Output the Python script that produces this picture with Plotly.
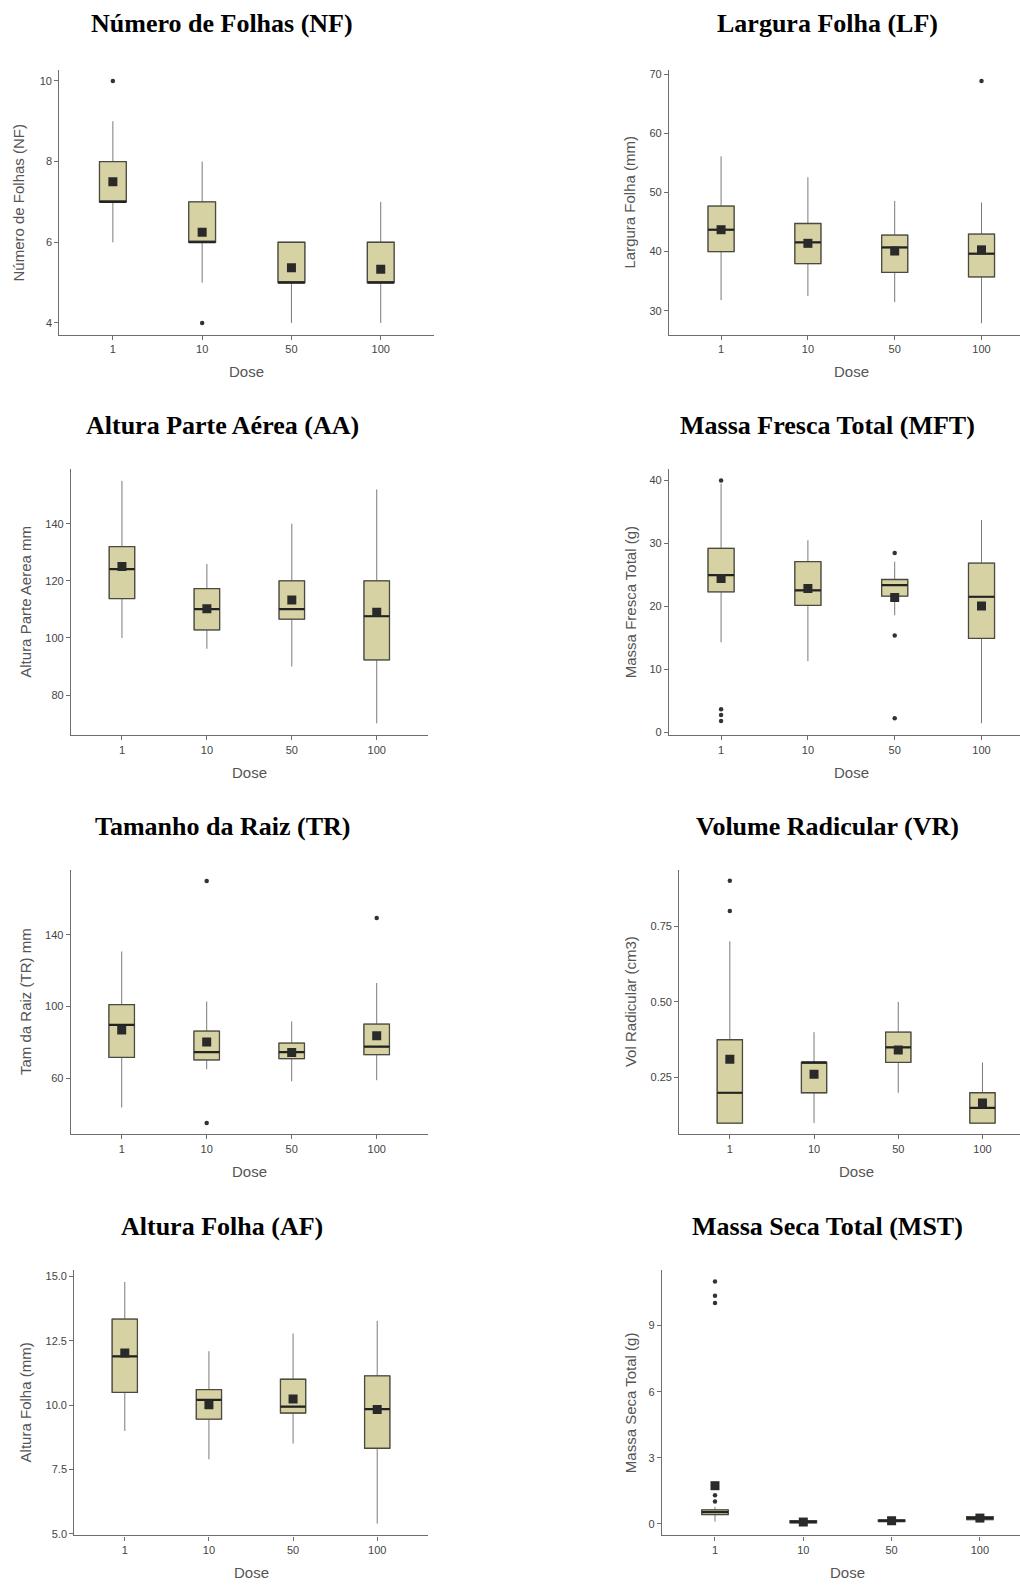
import plotly.graph_objects as go

W, H = 1020, 1586
DOSES = ["1", "10", "50", "100"]

# ---------------- data ----------------
# Número de Folhas (NF)
NF_Q1 = [7, 6, 5, 5]
NF_MED = [7, 6, 5, 5]
NF_Q3 = [8, 7, 6, 6]
NF_LO = [6, 5, 4, 4]
NF_HI = [9, 8, 6, 7]
NF_MEAN = [7.5, 6.25, 5.37, 5.33]
NF_OUT_DOSE = ["1", "10"]
NF_OUT_VAL = [10, 4]

# Largura Folha (LF)
LF_Q1 = [40.0, 37.97, 36.5, 35.72]
LF_MED = [43.7, 41.56, 40.7, 39.65]
LF_Q3 = [47.7, 44.75, 42.8, 42.96]
LF_LO = [31.8, 32.5, 31.46, 27.9]
LF_HI = [56.1, 52.55, 48.57, 48.3]
LF_MEAN = [43.7, 41.4, 40.1, 40.3]
LF_OUT_DOSE = ["100"]
LF_OUT_VAL = [68.8]

# Altura Parte Aérea (AA)
AA_Q1 = [113.8, 102.8, 106.6, 92.3]
AA_MED = [124.1, 110.1, 110.1, 107.6]
AA_Q3 = [132.0, 117.3, 120.0, 120.0]
AA_LO = [100.0, 96.2, 90.0, 70.1]
AA_HI = [155.0, 125.9, 140.0, 152.0]
AA_MEAN = [125.0, 110.2, 113.3, 109.0]
AA_OUT_DOSE = []
AA_OUT_VAL = []

# Massa Fresca Total (MFT)
MFT_Q1 = [22.32, 20.16, 21.64, 14.93]
MFT_MED = [24.96, 22.53, 23.38, 21.53]
MFT_Q3 = [29.23, 27.12, 24.27, 26.86]
MFT_LO = [14.3, 11.29, 18.58, 1.43]
MFT_HI = [39.5, 30.5, 27.1, 33.72]
MFT_MEAN = [24.43, 22.85, 21.42, 20.05]
MFT_OUT_DOSE = ["1", "1", "1", "1", "50", "50", "50"]
MFT_OUT_VAL = [40.0, 3.64, 2.74, 1.8, 28.5, 15.36, 2.22]

# Tamanho da Raiz (TR)
TR_Q1 = [71.7, 70.2, 70.9, 73.15]
TR_MED = [89.8, 74.6, 74.6, 77.6]
TR_Q3 = [101.1, 86.3, 79.6, 90.2]
TR_LO = [43.7, 65.0, 58.3, 58.9]
TR_HI = [130.7, 102.8, 91.7, 113.15]
TR_MEAN = [86.85, 80.2, 74.3, 83.7]
TR_OUT_DOSE = ["10", "10", "100"]
TR_OUT_VAL = [170.0, 35.0, 149.4]

# Volume Radicular (VR)
VR_Q1 = [0.1, 0.2, 0.3, 0.1]
VR_MED = [0.2, 0.3, 0.35, 0.15]
VR_Q3 = [0.375, 0.3, 0.4, 0.2]
VR_LO = [0.1, 0.1, 0.2, 0.1]
VR_HI = [0.7, 0.4, 0.5, 0.3]
VR_MEAN = [0.311, 0.261, 0.341, 0.166]
VR_OUT_DOSE = ["1", "1"]
VR_OUT_VAL = [0.9, 0.8]

# Altura Folha (AF)
AF_Q1 = [10.5, 9.46, 9.7, 8.33]
AF_MED = [11.9, 10.21, 9.95, 9.85]
AF_Q3 = [13.35, 10.61, 11.01, 11.14]
AF_LO = [9.0, 7.9, 8.51, 5.4]
AF_HI = [14.79, 12.1, 12.79, 13.28]
AF_MEAN = [12.03, 10.02, 10.24, 9.84]
AF_OUT_DOSE = []
AF_OUT_VAL = []

# Massa Seca Total (MST)
MST_Q1 = [0.42, 0.04, 0.10, 0.19]
MST_MED = [0.53, 0.09, 0.14, 0.26]
MST_Q3 = [0.63, 0.14, 0.18, 0.32]
MST_LO = [0.10, 0.01, 0.06, 0.13]
MST_HI = [0.77, 0.18, 0.22, 0.38]
MST_MEAN = [1.73, 0.08, 0.14, 0.26]
MST_OUT_DOSE = ["1", "1", "1", "1", "1"]
MST_OUT_VAL = [11.0, 10.36, 10.03, 1.30, 1.01]

# ---------------- panels ----------------
panels = [
    dict(title="Número de Folhas (NF)", ytitle="Número de Folhas (NF)",
         q1=NF_Q1, med=NF_MED, q3=NF_Q3, lo=NF_LO, hi=NF_HI, mean=NF_MEAN,
         od=NF_OUT_DOSE, ov=NF_OUT_VAL,
         yr=[3.70, 10.27], yt=[4, 6, 8, 10], ytt=["4", "6", "8", "10"],
         x0=59.3, x1=434.3, top=68.3, bot=334.3, tx=222, ty=22, ytx=19),
    dict(title="Largura Folha (LF)", ytitle="Largura Folha (mm)",
         q1=LF_Q1, med=LF_MED, q3=LF_Q3, lo=LF_LO, hi=LF_HI, mean=LF_MEAN,
         od=LF_OUT_DOSE, ov=LF_OUT_VAL,
         yr=[25.91, 70.67], yt=[30, 40, 50, 60, 70], ytt=["30", "40", "50", "60", "70"],
         x0=669, x1=1033.6, top=68.3, bot=334.3, tx=827, ty=22, ytx=630),
    dict(title="Altura Parte Aérea (AA)", ytitle="Altura Parte Aerea mm",
         q1=AA_Q1, med=AA_MED, q3=AA_Q3, lo=AA_LO, hi=AA_HI, mean=AA_MEAN,
         od=AA_OUT_DOSE, ov=AA_OUT_VAL,
         yr=[65.94, 159.08], yt=[80, 100, 120, 140], ytt=["80", "100", "120", "140"],
         x0=71, x1=427.7, top=469, bot=736, tx=222, ty=425, ytx=25.5),
    dict(title="Massa Fresca Total (MFT)", ytitle="Massa Fresca Total (g)",
         q1=MFT_Q1, med=MFT_MED, q3=MFT_Q3, lo=MFT_LO, hi=MFT_HI, mean=MFT_MEAN,
         od=MFT_OUT_DOSE, ov=MFT_OUT_VAL,
         yr=[-0.47, 41.79], yt=[0, 10, 20, 30, 40], ytt=["0", "10", "20", "30", "40"],
         x0=669, x1=1033.6, top=469, bot=736, tx=827, ty=425, ytx=630),
    dict(title="Tamanho da Raiz (TR)", ytitle="Tam da Raiz (TR) mm",
         q1=TR_Q1, med=TR_MED, q3=TR_Q3, lo=TR_LO, hi=TR_HI, mean=TR_MEAN,
         od=TR_OUT_DOSE, ov=TR_OUT_VAL,
         yr=[28.7, 176.3], yt=[60, 100, 140], ytt=["60", "100", "140"],
         x0=70.7, x1=427.7, top=871, bot=1136.7, tx=222, ty=828, ytx=25),
    dict(title="Volume Radicular (VR)", ytitle="Vol Radicular (cm3)",
         q1=VR_Q1, med=VR_MED, q3=VR_Q3, lo=VR_LO, hi=VR_HI, mean=VR_MEAN,
         od=VR_OUT_DOSE, ov=VR_OUT_VAL,
         yr=[0.0625, 0.9365], yt=[0.25, 0.5, 0.75], ytt=["0.25", "0.50", "0.75"],
         x0=679.3, x1=1033, top=871, bot=1136.7, tx=827, ty=828, ytx=630),
    dict(title="Altura Folha (AF)", ytitle="Altura Folha (mm)",
         q1=AF_Q1, med=AF_MED, q3=AF_Q3, lo=AF_LO, hi=AF_HI, mean=AF_MEAN,
         od=AF_OUT_DOSE, ov=AF_OUT_VAL,
         yr=[4.94, 15.26], yt=[5, 7.5, 10, 12.5, 15], ytt=["5.0", "7.5", "10.0", "12.5", "15.0"],
         x0=74.3, x1=427.7, top=1272.7, bot=1539.3, tx=222, ty=1229.5, ytx=25.7),
    dict(title="Massa Seca Total (MST)", ytitle="Massa Seca Total (g)",
         q1=MST_Q1, med=MST_MED, q3=MST_Q3, lo=MST_LO, hi=MST_HI, mean=MST_MEAN,
         od=MST_OUT_DOSE, ov=MST_OUT_VAL,
         yr=[-0.53, 11.53], yt=[0, 3, 6, 9], ytt=["0", "3", "6", "9"],
         x0=662, x1=1032.9, top=1272.7, bot=1539.3, tx=827, ty=1229.5, ytx=630.5),
]

BOX_W = 0.3
FILL = "#d6d2a3"
EDGE = "#4a4a3e"
WHISK = "#7a7a7a"
AXC = "#6e6e6e"
SANS = "Liberation Sans, Arial, sans-serif"
SERIF = "Liberation Serif, Times New Roman, serif"

fig = go.Figure()
annotations = []
pos = list(range(len(DOSES)))

for k, p in enumerate(panels):
    n = "" if k == 0 else str(k + 1)
    xa, ya = "x" + n, "y" + n
    common = dict(xaxis=xa, yaxis=ya, showlegend=False, hoverinfo="skip")
    # whiskers
    fig.add_trace(go.Box(x=pos, q1=p["q1"], median=p["med"], q3=p["q3"],
                         lowerfence=p["lo"], upperfence=p["hi"],
                         width=BOX_W, whiskerwidth=0, boxpoints=False,
                         fillcolor="rgba(0,0,0,0)", line=dict(color=WHISK, width=1),
                         **common))
    # box body
    fig.add_trace(go.Box(x=pos, q1=p["q1"], median=p["med"], q3=p["q3"],
                         lowerfence=p["q1"], upperfence=p["q3"],
                         width=BOX_W, whiskerwidth=0, boxpoints=False,
                         fillcolor=FILL, line=dict(color=EDGE, width=1.3),
                         **common))
    # median
    mx, my = [], []
    for i, m in zip(pos, p["med"]):
        mx += [i - BOX_W / 2, i + BOX_W / 2, None]
        my += [m, m, None]
    fig.add_trace(go.Scatter(x=mx, y=my, mode="lines",
                             line=dict(color="#222222", width=2.2), **common))
    # mean
    fig.add_trace(go.Scatter(x=pos, y=p["mean"], mode="markers",
                             marker=dict(symbol="square", size=9, color="#2a2a2a"),
                             **common))
    # outliers
    if p["od"]:
        fig.add_trace(go.Scatter(x=[DOSES.index(d) for d in p["od"]], y=p["ov"],
                                 mode="markers",
                                 marker=dict(symbol="circle", size=4.5, color="#333333"),
                                 **common))

    # geometry
    x1c = min(p["x1"], W)
    xr_hi = -0.6 + 4.2 * (x1c - p["x0"]) / (p["x1"] - p["x0"])
    axis_common = dict(showline=True, linecolor=AXC, linewidth=1.2, ticks="outside",
                       ticklen=4, tickcolor=AXC, tickwidth=1, showgrid=False,
                       zeroline=False, tickfont=dict(family=SANS, size=11, color="#444444"))
    fig.layout["xaxis" + n] = dict(domain=[p["x0"] / W, x1c / W], range=[-0.6, xr_hi],
                                   tickvals=pos, ticktext=DOSES, anchor=ya, **axis_common)
    fig.layout["yaxis" + n] = dict(domain=[1 - p["bot"] / H, 1 - p["top"] / H],
                                   range=p["yr"], tickvals=p["yt"], ticktext=p["ytt"],
                                   anchor=xa, **axis_common)

    annotations.append(dict(text="<b>" + p["title"] + "</b>", x=p["tx"] / W, y=1 - p["ty"] / H,
                            xref="paper", yref="paper", xanchor="center", yanchor="middle",
                            showarrow=False, font=dict(family=SERIF, size=26, color="#000000")))
    annotations.append(dict(text=p["ytitle"], x=p["ytx"] / W, y=1 - (p["top"] + p["bot"]) / 2 / H,
                            xref="paper", yref="paper", xanchor="center", yanchor="middle",
                            textangle=-90, showarrow=False,
                            font=dict(family=SANS, size=15, color="#555555")))
    annotations.append(dict(text="Dose", x=(p["x0"] + p["x1"]) / 2 / W, y=1 - (p["bot"] + 37) / H,
                            xref="paper", yref="paper", xanchor="center", yanchor="middle",
                            showarrow=False, font=dict(family=SANS, size=15, color="#555555")))

fig.update_layout(width=W, height=H, margin=dict(l=0, r=0, t=0, b=0),
                  paper_bgcolor="white", plot_bgcolor="white", boxmode="overlay",
                  annotations=annotations)

fig.write_html("out.html")
